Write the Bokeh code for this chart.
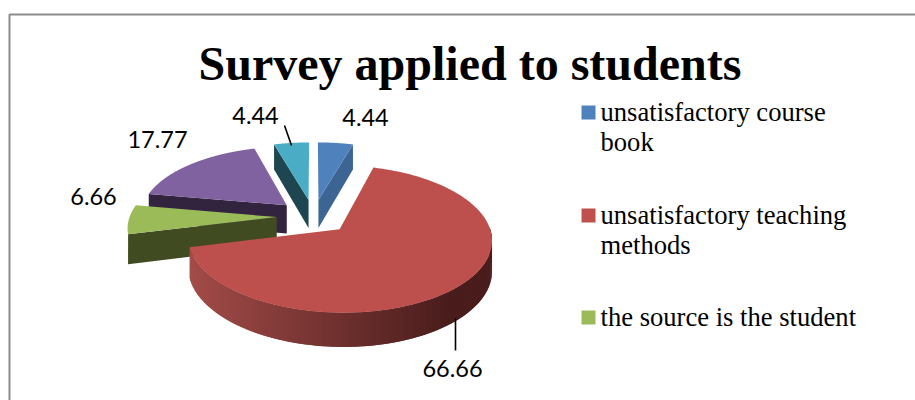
import math
from bokeh.core.properties import value
from bokeh.embed import file_html
from bokeh.plotting import figure
from bokeh.resources import INLINE

# Survey results, in the order the slices run clockwise from twelve o'clock.
slice_values = [4.44, 66.66, 6.66, 17.77, 4.44]
top_colors = ["#4F81BD", "#BD4F4C", "#9BBB59", "#8062A1", "#4BACC6"]
side_colors = ["#3C6594", "#7A3230", "#414B22", "#32243F", "#1D4651"]
value_labels = ["4.44", "66.66", "6.66", "17.77", "4.44"]
label_x = [365, 452, 93, 157, 255]
label_y = [116.5, 367.5, 195.5, 138.5, 114.5]

legend_lines = [
    ["unsatisfactory course", "book"],
    ["unsatisfactory teaching", "methods"],
    ["the source is the student"],
]
legend_colors = ["#4F81BD", "#C0504D", "#9BBB59"]
legend_y = [105, 208, 310]

# Projection of the tilted pie onto the page.
CX, CY, RX, RY, PERSP = 313, 216, 147, 69, 0.13
EXPLODE, DEPTH = 0.25, 29
# Which flat cut faces of each slice turn towards the viewer.
show_start = [False, False, True, True, True]
show_end = [True, False, False, False, False]


def project(gx, gz, drop=0.0):
    s = 1 / (1 + PERSP * gz)
    return CX + RX * gx * s, CY - RY * gz * s + drop * s


def lerp_color(a, b, t):
    return tuple(round(a[i] + (b[i] - a[i]) * t) for i in range(3))


p = figure(width=915, height=400, x_range=(0, 915), y_range=(400, 0),
           output_backend="svg", toolbar_location=None, min_border=0,
           background_fill_color="white", border_fill_color="white",
           outline_line_color=None)
p.axis.visible = False
p.grid.visible = False

# Frame of the chart: only its top and left edges fall inside the page.
p.line([9, 9, 915], [400, 14, 14], line_color="#8C8C8C", line_width=2)

total = sum(slice_values)
starts, acc = [], 0.0
for v in slice_values:
    starts.append(acc / total * 2 * math.pi)
    acc += v
ends = starts[1:] + [2 * math.pi]

# Far slices first, so that the nearer ones paint over them.
for i in [3, 4, 0, 2, 1]:
    a0, a1 = starts[i], ends[i]
    mid = (a0 + a1) / 2
    ox, oz = EXPLODE * math.sin(mid), EXPLODE * math.cos(mid)
    angles = [a0 + (a1 - a0) * k / 240 for k in range(241)]
    rim = [(ox + math.sin(a), oz + math.cos(a)) for a in angles]

    for flag, a in ((show_start[i], a0), (show_end[i], a1)):
        if flag:
            g = (ox + math.sin(a), oz + math.cos(a))
            pts = [project(*g), project(ox, oz), project(ox, oz, DEPTH), project(*g, DEPTH)]
            p.patch([q[0] for q in pts], [q[1] for q in pts],
                    fill_color=side_colors[i], line_color=None)

    # Outer wall of the large slice, shaded from left to right. The bands
    # overlap their neighbour so no seams show between them.
    if i == 1:
        for k in range(238, -1, -1):
            if math.cos(angles[k]) > 0.05:
                continue
            g0, g1 = rim[k], rim[k + 2]
            q = [project(*g0), project(*g1), project(*g1, DEPTH), project(*g0, DEPTH)]
            t = min(1.0, max(0.0, (q[0][0] - 190) / 260))
            hex_c = "#%02X%02X%02X" % lerp_color((163, 76, 73), (74, 29, 28), t)
            p.patch([w[0] for w in q], [w[1] for w in q], fill_color=hex_c, line_color=None)

    top = [project(ox, oz)] + [project(*g) for g in rim]
    p.patch([q[0] for q in top], [q[1] for q in top], fill_color=top_colors[i], line_color=None)

# Leader lines from the two labels that sit away from their slices.
p.segment([455, 284], [318, 125], [455, 291], [350, 145], line_color="black", line_width=1.6)

p.text(label_x, label_y, text=value_labels, text_font=value("Lato"), text_font_size="23.5px",
       text_color="black", text_align="center", text_baseline="alphabetic")

p.text([469.5], [63], text=["Survey applied to students"], text_font=value("Liberation Serif"),
       text_font_size="48px", text_font_style="bold", text_color="black",
       text_align="center", text_baseline="alphabetic")

p.rect([588] * 3, [y + 7 for y in legend_y], width=14, height=14,
       fill_color=legend_colors, line_color=None)
for lines, y in zip(legend_lines, legend_y):
    for n, line in enumerate(lines):
        p.text([600], [y + 6 + n * 30.5], text=[line], text_font=value("Liberation Serif"),
               text_font_size="26.6px", text_color="black", text_align="left", text_baseline="alphabetic")

open("out.html", "w").write(file_html(p, INLINE))
